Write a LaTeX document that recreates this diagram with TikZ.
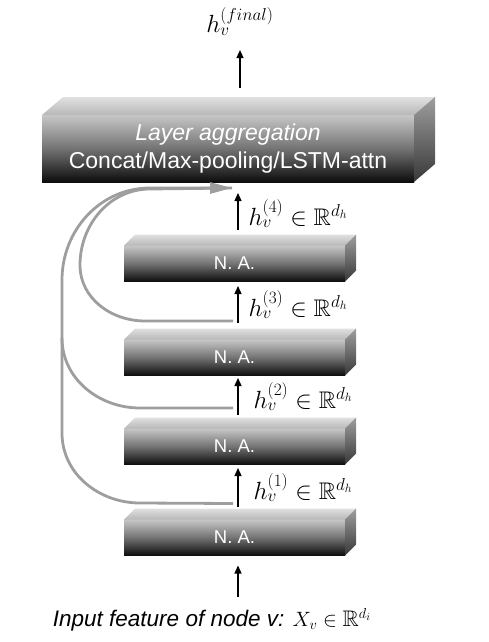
\documentclass[tikz,border=0pt]{standalone}
\usepackage{amssymb}
\usepackage[no-math]{fontspec}
\setmainfont{Liberation Sans}
\usetikzlibrary{arrows.meta}

\tikzset{
  nabox/.style={inner sep=0pt, outer sep=0pt, minimum width=221pt, minimum height=36pt, text=white,
    top color=black!22, bottom color=black!95, middle color=black!55, font=\fontsize{18.5}{20}\selectfont},
  aggbox/.style={inner sep=0pt, outer sep=0pt, minimum width=372pt, minimum height=67pt, text=white, align=center,
    top color=black!22, bottom color=black!95, middle color=black!55, font=\fontsize{23}{28}\selectfont},
  topface/.style={top color=black!12, bottom color=black!28},
  sideface/.style={top color=black!38, bottom color=black!78},
  flow/.style={-{Triangle[length=8pt,width=7pt]}, line width=1.3pt},
  skip/.style={draw=black!38, line width=2.8pt},
  hlabel/.style={right, inner sep=0pt, font=\fontsize{24}{26}\selectfont},
}

\begin{document}
\begin{tikzpicture}[x=1pt,y=-1pt]
\useasboundingbox (0,0) rectangle (488,642);

\node[aggbox] (agg) at (228,148.5) {\textit{Layer aggregation}\\Concat/Max-pooling/LSTM-attn};
\node[nabox] (na4) at (234.5,263.5) {N. A.};
\node[nabox] (na3) at (234.5,357.5) {N. A.};
\node[nabox] (na2) at (234.5,446.5) {N. A.};
\node[nabox] (na1) at (234.5,537.5) {N. A.};
\node[anchor=base, inner sep=0pt, font=\fontsize{22.5}{26}\selectfont] (input) at (212,626)
  {\textit{Input feature of node v:} $X_v \in \mathbb{R}^{d_i}$};
\node[anchor=base, inner sep=0pt, font=\fontsize{25}{28}\selectfont] (final) at (240,33) {$h_v^{(final)}$};

% top and side faces of the blocks
\foreach \n/\dx/\dy in {na1/11/11, na2/11/11, na3/11/11, na4/11/11, agg/21/18} {
  \path[topface] (\n.north west) -- ([xshift=\dx pt,yshift=\dy pt]\n.north west)
    -- ([xshift=\dx pt,yshift=\dy pt]\n.north east) -- (\n.north east) -- cycle;
  \path[sideface] (\n.north east) -- ([xshift=\dx pt,yshift=\dy pt]\n.north east)
    -- ([xshift=\dx pt,yshift=\dy pt]\n.south east) -- (\n.south east) -- cycle;
}

\draw[flow, shorten <=11pt, shorten >=10pt] ([xshift=3.5pt]na1.south |- input.north) -- ([xshift=3.5pt]na1.south);
\draw[flow] ([xshift=3.5pt,yshift=12.5pt]na1.north) -- ([xshift=3.5pt,yshift=-3.5pt]na2.south)
  node[hlabel, midway, xshift=15pt] {$h_v^{(1)} \in \mathbb{R}^{d_h}$};
\draw[flow] ([xshift=3.5pt,yshift=13.5pt]na2.north) -- ([xshift=3.5pt,yshift=-2.5pt]na3.south)
  node[hlabel, midway, xshift=15pt] {$h_v^{(2)} \in \mathbb{R}^{d_h}$};
\draw[flow] ([xshift=3.5pt,yshift=16.5pt]na3.north) -- ([xshift=3.5pt,yshift=-4.5pt]na4.south)
  node[hlabel, midway, xshift=10pt] {$h_v^{(3)} \in \mathbb{R}^{d_h}$};
\draw[flow] ([xshift=3.5pt,yshift=15.5pt]na4.north) -- ([xshift=10pt,yshift=-11pt]agg.south)
  node[hlabel, midway, xshift=10pt, yshift=-2pt] {$h_v^{(4)} \in \mathbb{R}^{d_h}$};
\draw[flow, shorten >=14pt] ([xshift=12pt,yshift=27pt]agg.north) -- (final.south);

% skip connections
\draw[skip] ([xshift=-1.5pt,yshift=20.5pt]na2.north) -- (140,408) to[out=180,in=-90] (62,338);
\draw[skip] ([xshift=-1.5pt,yshift=18.5pt]na3.north) -- (145,321) to[out=180,in=-90] (80,265)
  to[out=90,in=180] (150,189) -- ([xshift=4pt,yshift=-6pt]agg.south);
\draw[skip, -{Triangle[length=22pt,width=11pt]}] ([xshift=-1.5pt,yshift=16pt]na1.north) -- (140,503)
  to[out=180,in=-90] (62,433) -- (62,280) to[out=90,in=180] (150,188) -- ([xshift=4pt,yshift=-6pt]agg.south);
\end{tikzpicture}
\end{document}
